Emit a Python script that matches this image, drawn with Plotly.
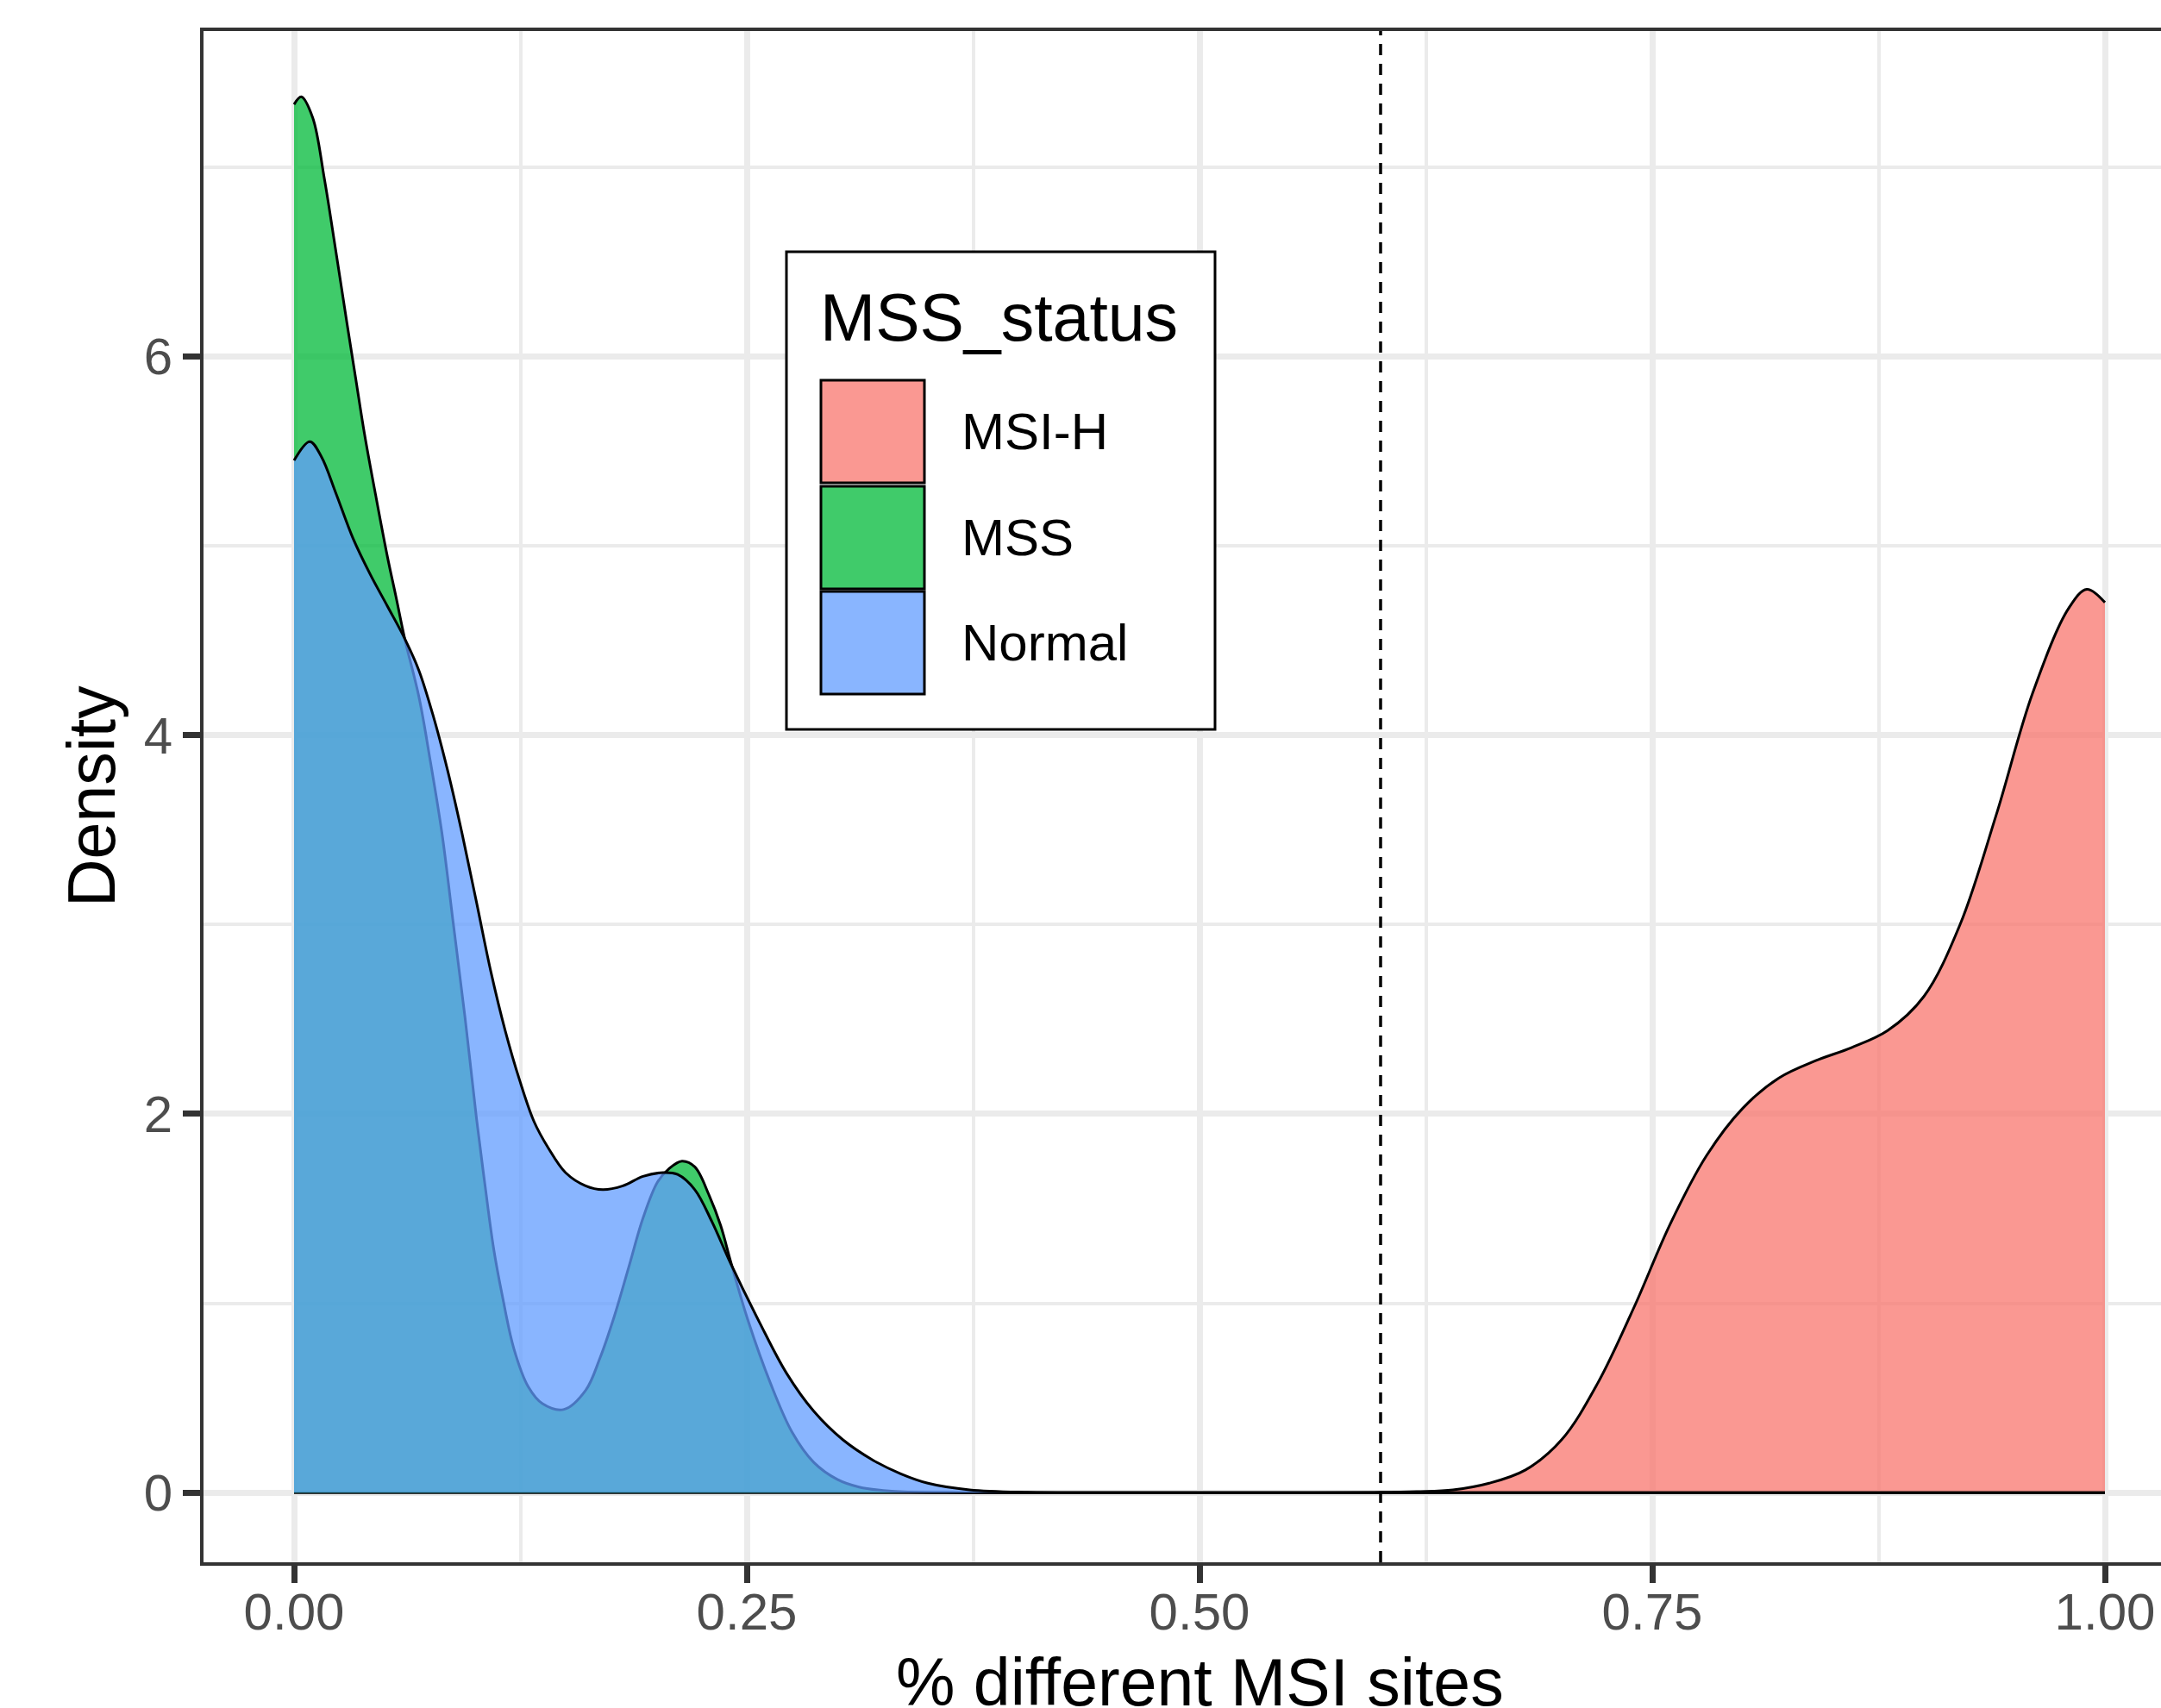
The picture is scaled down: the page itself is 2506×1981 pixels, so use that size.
import plotly.graph_objects as go

# ---------------- data ----------------
categories = ["MSI-H", "MSS", "Normal"]
fill_colors = ["rgba(248,118,109,0.75)", "rgba(0,186,56,0.75)", "rgba(97,156,255,0.75)"]

msih_x = [0.0, 0.55, 0.60, 0.62, 0.64, 0.66, 0.68, 0.70, 0.72, 0.74, 0.76, 0.78, 0.80,
          0.82, 0.84, 0.86, 0.88, 0.90, 0.92, 0.94, 0.96, 0.98, 0.99, 1.00]
msih_y = [0.0, 0.0, 0.002, 0.006, 0.015, 0.05, 0.12, 0.28, 0.58, 0.98, 1.42, 1.78, 2.03,
          2.19, 2.28, 2.35, 2.44, 2.62, 3.00, 3.58, 4.22, 4.67, 4.77, 4.70]

mss_x = [0.0, 0.004, 0.0103, 0.0167, 0.0230, 0.0293, 0.0341, 0.0389, 0.0452, 0.0516, 0.0563,
         0.0611, 0.069, 0.0753, 0.0817, 0.088, 0.0944, 0.1007, 0.1055, 0.1102, 0.115, 0.1214,
         0.1293, 0.1372, 0.1491, 0.161, 0.1689, 0.1768, 0.1848, 0.1927, 0.2007, 0.207, 0.2142,
         0.2213, 0.2292, 0.2356, 0.2411, 0.251, 0.263, 0.275, 0.287, 0.300, 0.312, 0.330,
         0.360, 0.400, 1.0]
mss_y = [7.33, 7.37, 7.26, 6.94, 6.56, 6.17, 5.88, 5.59, 5.26, 4.94, 4.73,
         4.51, 4.20, 3.86, 3.48, 3.00, 2.51, 1.98, 1.62, 1.29, 1.04, 0.76,
         0.56, 0.47, 0.44, 0.54, 0.71, 0.93, 1.19, 1.45, 1.64, 1.71, 1.75,
         1.72, 1.57, 1.41, 1.22, 0.90, 0.58, 0.32, 0.16, 0.07, 0.03, 0.008,
         0.001, 0.0, 0.0]

normal_x = [0.0, 0.0087, 0.0151, 0.0230, 0.0325, 0.0420, 0.0516, 0.0611, 0.069, 0.0769,
            0.0849, 0.0928, 0.1007, 0.1087, 0.1166, 0.1245, 0.1325, 0.1404, 0.1499, 0.161,
            0.1705, 0.1816, 0.1927, 0.2038, 0.2118, 0.2213, 0.2308, 0.2411, 0.257, 0.272,
            0.287, 0.303, 0.320, 0.335, 0.350, 0.373, 0.405, 0.45, 1.0]
normal_y = [5.45, 5.55, 5.47, 5.28, 5.04, 4.85, 4.68, 4.51, 4.34, 4.10,
            3.81, 3.48, 3.12, 2.75, 2.44, 2.18, 1.96, 1.82, 1.69, 1.62,
            1.60, 1.62, 1.67, 1.69, 1.68, 1.60, 1.43, 1.21, 0.90, 0.63,
            0.43, 0.28, 0.17, 0.10, 0.05, 0.015, 0.002, 0.0, 0.0]

series_x = [msih_x, mss_x, normal_x]
series_y = [msih_y, mss_y, normal_y]

x_tick_vals = [0.0, 0.25, 0.50, 0.75, 1.00]
x_tick_text = ["0.00", "0.25", "0.50", "0.75", "1.00"]
x_minor_vals = [0.125, 0.375, 0.625, 0.875]
y_tick_vals = [0, 2, 4, 6]
y_tick_text = ["0", "2", "4", "6"]
y_minor_vals = [1, 3, 5, 7]
cutoff = 0.6

x_title = "% different MSI sites"
y_title = "Density"
legend_title = "MSS_status"

# ---------------- layout geometry ----------------
FW, FH = 2506, 1981
L, T, B = 236, 36, 169
W = FW - L
H = FH - T - B
FONT = "Liberation Sans, Arial, Helvetica, sans-serif"


def px(xp):
    return (xp - L) / W


def py(yp):
    return (T + H - yp) / H


fig = go.Figure()
for name, xs, ys, fc in zip(categories, series_x, series_y, fill_colors):
    fig.add_trace(go.Scatter(
        x=xs, y=ys, name=name, mode="lines",
        line=dict(color="black", width=3, shape="spline", smoothing=1.0),
        fill="tozeroy", fillcolor=fc, showlegend=False, hoverinfo="skip",
    ))

shapes = []
# cutoff line
shapes.append(dict(type="line", xref="x", yref="paper", x0=cutoff, x1=cutoff, y0=0, y1=1,
                   line=dict(color="black", width=3.5, dash="13px,10px"), layer="above"))
# legend box
shapes.append(dict(type="rect", xref="paper", yref="paper", x0=px(912), x1=px(1409),
                   y0=py(846), y1=py(292), line=dict(color="black", width=3),
                   fillcolor="white", layer="above"))
key_tops = [441, 564, 686]
key_h = 119
annotations = []
for name, fc, kt in zip(categories, fill_colors, key_tops):
    shapes.append(dict(type="rect", xref="paper", yref="paper", x0=px(952), x1=px(1072),
                       y0=py(kt + key_h), y1=py(kt), line=dict(color="black", width=3),
                       fillcolor=fc, layer="above"))
    annotations.append(dict(text=name, xref="paper", yref="paper", x=px(1113), y=py(kt + key_h / 2),
                            xanchor="left", yanchor="middle", showarrow=False,
                            font=dict(family=FONT, size=60, color="black")))
annotations.append(dict(text=legend_title, xref="paper", yref="paper", x=px(949), y=py(368),
                        xanchor="left", yanchor="middle", showarrow=False,
                        font=dict(family=FONT, size=77, color="black")))
annotations.append(dict(text=x_title, xref="x", yref="paper", x=0.5, y=py(1951),
                        xanchor="center", yanchor="middle", showarrow=False,
                        font=dict(family=FONT, size=77, color="black")))
annotations.append(dict(text=y_title, xref="paper", yref="paper", x=px(106), y=py(924),
                        xanchor="center", yanchor="middle", showarrow=False, textangle=-90,
                        font=dict(family=FONT, size=77, color="black")))

axis_common = dict(
    showgrid=True, gridcolor="#EBEBEB", gridwidth=6.5,
    ticks="outside", ticklen=20, tickwidth=7, tickcolor="#333333",
    showline=True, linecolor="#333333", linewidth=4,
    zeroline=False, automargin=False,
    tickfont=dict(family=FONT, size=60, color="#4D4D4D"),
)

fig.update_layout(
    width=FW, height=FH,
    margin=dict(l=L, r=0, t=T, b=B, pad=0),
    paper_bgcolor="white", plot_bgcolor="white",
    showlegend=False,
    xaxis=dict(range=[-0.05, -0.05 + W / 2100.0], tickmode="array", tickvals=x_tick_vals,
               ticktext=x_tick_text, mirror=True, ticklabelstandoff=-18,
               minor=dict(tickmode="array", tickvals=x_minor_vals, showgrid=True,
                          gridcolor="#EBEBEB", gridwidth=3.5, ticks=""),
               **axis_common),
    yaxis=dict(range=[-0.3675, 7.7175], tickmode="array", tickvals=y_tick_vals,
               ticktext=y_tick_text, mirror=False,
               minor=dict(tickmode="array", tickvals=y_minor_vals, showgrid=True,
                          gridcolor="#EBEBEB", gridwidth=3.5, ticks=""),
               **axis_common),
    shapes=shapes,
    annotations=annotations,
)

fig.write_html("out.html", config={"displayModeBar": False},
               post_script="document.body.style.margin='0';document.body.style.overflow='hidden';")
